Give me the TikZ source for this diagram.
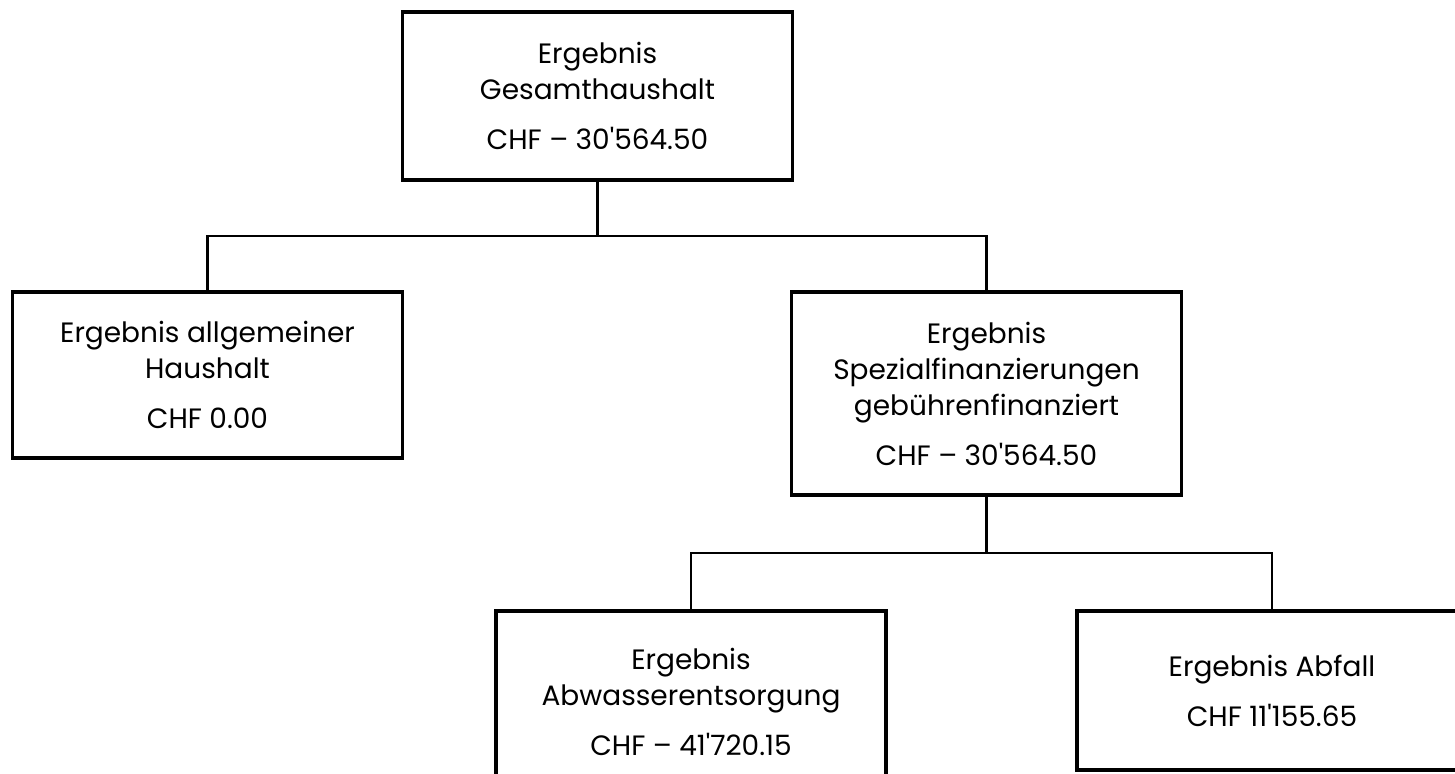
\documentclass[tikz,border=0pt]{standalone}
\usepackage{fontspec}
\setmainfont{Poppins}
\tikzset{
  kasten/.style={draw,line width=1.7pt,minimum width=195pt,inner sep=0pt,align=center,
    font=\fontsize{14}{18}\selectfont},
  linie/.style={line width=1.1pt}
}
\newcommand{\chf}[1]{CHF #1}
\begin{document}
\begin{tikzpicture}[x=0.5pt,y=-0.5pt]
	\useasboundingbox (0,0) rectangle (1455,774);
	\path
	(597.5,236) coordinate (J1)
	(986.5,553) coordinate (J2);
	\node[kasten,minimum height=84pt] (G) at (597.5,96) {Ergebnis\\Gesamthaushalt\\[7pt]\chf{-- 30\textquotesingle 564.50}};
	\node[kasten,minimum height=83pt] (A) at (207.5,375) {Ergebnis allgemeiner\\Haushalt\\[7pt]\chf{0.00}};
	\node[kasten,minimum height=101.5pt] (S) at (986.5,393.5) {Ergebnis\\Spezialfinanzierungen\\geb\"uhrenfinanziert\\[7pt]\chf{-- 30\textquotesingle 564.50}};
	\node[kasten,minimum height=91pt] (W) at (691,702) {Ergebnis\\Abwasserentsorgung\\[7pt]\chf{-- 41\textquotesingle 720.15}};
	\node[kasten,minimum height=79.5pt] (F) at (1272,690.5) {Ergebnis Abfall\\[7pt]\chf{11\textquotesingle 155.65}};
	\draw[linie] (G.south) -- (J1) -| (A.north) (J1) -| (S.north);
	\draw[linie] (S.south) -- (J2) -| (W.north) (J2) -| (F.north);
\end{tikzpicture}
\end{document}
